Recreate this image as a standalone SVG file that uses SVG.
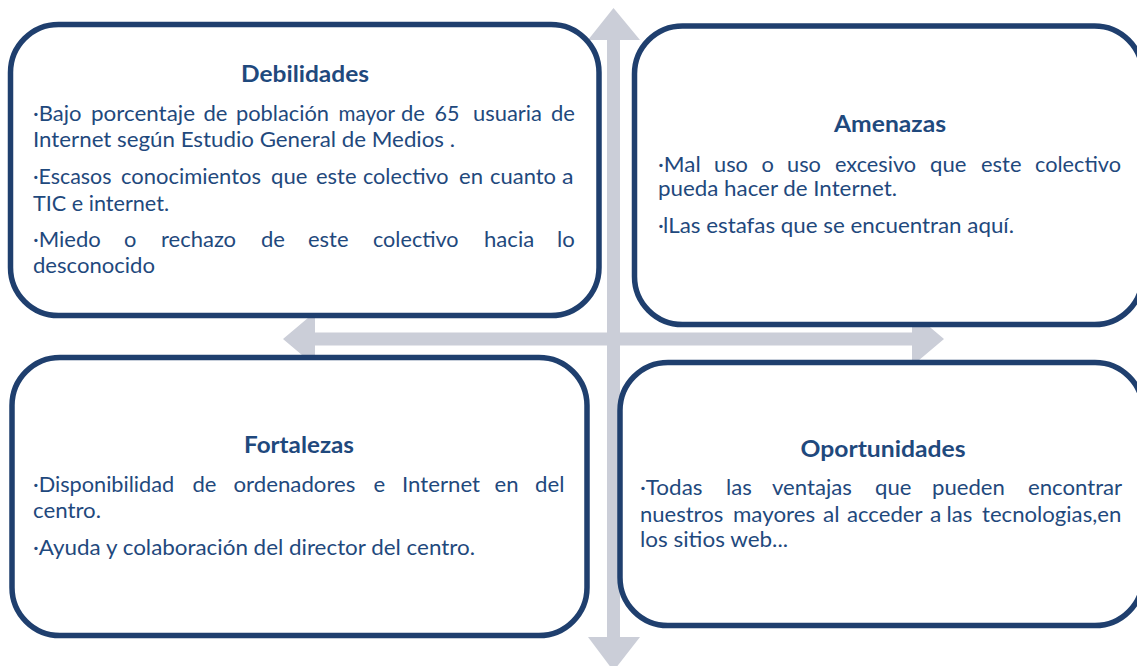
<svg xmlns="http://www.w3.org/2000/svg" width="1137" height="666" viewBox="0 0 1137 666">
<style>
.box{fill:#ffffff;stroke:#1F3F6E;stroke-width:5.5}
.arrow{fill:#CBCED8}
.title{font-family:Lato,"Liberation Sans",sans-serif;font-weight:bold;font-size:23px;fill:#1F497D;text-anchor:middle}
.body{font-family:Lato,"Liberation Sans",sans-serif;font-size:21px;fill:#1F497D}
</style>
<rect width="1137" height="666" fill="#ffffff"/>
<g id="connectors">
<polygon class="arrow" points="613.5,8 640,40 620,40 620,637 640,637 613.5,671 588,637 607,637 607,40 588,40"/>
<polygon class="arrow" points="283,339 315,312 315,332.5 912,332.5 912,312 944,339 912,366 912,345.5 315,345.5 315,366"/>
</g>
<g id="debilidades">
<rect class="box" x="10.5" y="24.5" width="588.5" height="291" rx="48" ry="48"/>
<text class="title" x="305" y="82" textLength="128" lengthAdjust="spacingAndGlyphs">Debilidades</text>
<text class="body" y="121"><tspan x="33" textLength="48.5" lengthAdjust="spacingAndGlyphs">·Bajo</tspan> <tspan x="91" textLength="104" lengthAdjust="spacingAndGlyphs">porcentaje</tspan> <tspan x="203.5" textLength="24" lengthAdjust="spacingAndGlyphs">de</tspan> <tspan x="236" textLength="93" lengthAdjust="spacingAndGlyphs">población</tspan> <tspan x="338.5" textLength="56" lengthAdjust="spacingAndGlyphs">mayor</tspan> <tspan x="401" textLength="24" lengthAdjust="spacingAndGlyphs">de</tspan> <tspan x="434.5" textLength="25" lengthAdjust="spacingAndGlyphs">65</tspan> <tspan x="473" textLength="69" lengthAdjust="spacingAndGlyphs">usuaria</tspan> <tspan x="551" textLength="24" lengthAdjust="spacingAndGlyphs">de</tspan></text>
<text class="body" x="33" y="147" textLength="422" lengthAdjust="spacingAndGlyphs">Internet según Estudio General de Medios .</text>
<text class="body" y="184"><tspan x="33" textLength="78.5" lengthAdjust="spacingAndGlyphs">·Escasos</tspan> <tspan x="121" textLength="140" lengthAdjust="spacingAndGlyphs">conocimientos</tspan> <tspan x="271" textLength="36.4" lengthAdjust="spacingAndGlyphs">que</tspan> <tspan x="316" textLength="40.5" lengthAdjust="spacingAndGlyphs">este</tspan> <tspan x="363" textLength="85.6" lengthAdjust="spacingAndGlyphs">colectivo</tspan> <tspan x="459" textLength="24" lengthAdjust="spacingAndGlyphs">en</tspan> <tspan x="490" textLength="66" lengthAdjust="spacingAndGlyphs">cuanto</tspan> <tspan x="562" textLength="11.5" lengthAdjust="spacingAndGlyphs">a</tspan></text>
<text class="body" x="33" y="211" textLength="136" lengthAdjust="spacingAndGlyphs">TIC e internet.</text>
<text class="body" y="247"><tspan x="33" textLength="67.8" lengthAdjust="spacingAndGlyphs">·Miedo</tspan> <tspan x="124" textLength="12.4" lengthAdjust="spacingAndGlyphs">o</tspan> <tspan x="161" textLength="75.1" lengthAdjust="spacingAndGlyphs">rechazo</tspan> <tspan x="261" textLength="24" lengthAdjust="spacingAndGlyphs">de</tspan> <tspan x="308" textLength="40.5" lengthAdjust="spacingAndGlyphs">este</tspan> <tspan x="373" textLength="85.6" lengthAdjust="spacingAndGlyphs">colectivo</tspan> <tspan x="484" textLength="50.2" lengthAdjust="spacingAndGlyphs">hacia</tspan> <tspan x="557" textLength="17.8" lengthAdjust="spacingAndGlyphs">lo</tspan></text>
<text class="body" x="33" y="273" textLength="122" lengthAdjust="spacingAndGlyphs">desconocido</text>
</g>
<g id="amenazas">
<rect class="box" x="634.5" y="26" width="508" height="298.5" rx="48" ry="48"/>
<text class="title" x="890" y="132" textLength="112" lengthAdjust="spacingAndGlyphs">Amenazas</text>
<text class="body" y="172"><tspan x="658" textLength="42.7" lengthAdjust="spacingAndGlyphs">·Mal</tspan> <tspan x="714" textLength="33.9" lengthAdjust="spacingAndGlyphs">uso</tspan> <tspan x="761.5" textLength="12.4" lengthAdjust="spacingAndGlyphs">o</tspan> <tspan x="787" textLength="33.9" lengthAdjust="spacingAndGlyphs">uso</tspan> <tspan x="835" textLength="81.1" lengthAdjust="spacingAndGlyphs">excesivo</tspan> <tspan x="930" textLength="36.4" lengthAdjust="spacingAndGlyphs">que</tspan> <tspan x="981" textLength="40.5" lengthAdjust="spacingAndGlyphs">este</tspan> <tspan x="1035" textLength="86" lengthAdjust="spacingAndGlyphs">colectivo</tspan></text>
<text class="body" x="658" y="196" textLength="239" lengthAdjust="spacingAndGlyphs">pueda hacer de Internet.</text>
<text class="body" x="658" y="233" textLength="356" lengthAdjust="spacingAndGlyphs">·lLas estafas que se encuentran aquí.</text>
</g>
<g id="fortalezas">
<rect class="box" x="12" y="357.5" width="575" height="278" rx="48" ry="48"/>
<text class="title" x="299" y="453" textLength="110" lengthAdjust="spacingAndGlyphs">Fortalezas</text>
<text class="body" y="492"><tspan x="33" textLength="141.2" lengthAdjust="spacingAndGlyphs">·Disponibilidad</tspan> <tspan x="192.5" textLength="24" lengthAdjust="spacingAndGlyphs">de</tspan> <tspan x="233.5" textLength="122" lengthAdjust="spacingAndGlyphs">ordenadores</tspan> <tspan x="373.5" textLength="11.7" lengthAdjust="spacingAndGlyphs">e</tspan> <tspan x="402" textLength="78" lengthAdjust="spacingAndGlyphs">Internet</tspan> <tspan x="494.5" textLength="24" lengthAdjust="spacingAndGlyphs">en</tspan> <tspan x="535" textLength="29.4" lengthAdjust="spacingAndGlyphs">del</tspan></text>
<text class="body" x="33" y="518" textLength="68" lengthAdjust="spacingAndGlyphs">centro.</text>
<text class="body" x="33" y="555" textLength="442" lengthAdjust="spacingAndGlyphs">·Ayuda y colaboración del director del centro.</text>
</g>
<g id="oportunidades">
<rect class="box" x="620" y="362.5" width="523" height="263" rx="48" ry="48"/>
<text class="title" x="883" y="457" textLength="165" lengthAdjust="spacingAndGlyphs">Oportunidades</text>
<text class="body" y="495"><tspan x="640" textLength="62.5" lengthAdjust="spacingAndGlyphs">·Todas</tspan> <tspan x="726" textLength="25.8" lengthAdjust="spacingAndGlyphs">las</tspan> <tspan x="772" textLength="79.9" lengthAdjust="spacingAndGlyphs">ventajas</tspan> <tspan x="875" textLength="36.4" lengthAdjust="spacingAndGlyphs">que</tspan> <tspan x="932" textLength="72.8" lengthAdjust="spacingAndGlyphs">pueden</tspan> <tspan x="1028" textLength="94.2" lengthAdjust="spacingAndGlyphs">encontrar</tspan></text>
<text class="body" y="522"><tspan x="640" textLength="83.2" lengthAdjust="spacingAndGlyphs">nuestros</tspan> <tspan x="733" textLength="82.2" lengthAdjust="spacingAndGlyphs">mayores</tspan> <tspan x="823" textLength="16.6" lengthAdjust="spacingAndGlyphs">al</tspan> <tspan x="847" textLength="75.1" lengthAdjust="spacingAndGlyphs">acceder</tspan> <tspan x="930" textLength="11.3" lengthAdjust="spacingAndGlyphs">a</tspan> <tspan x="946.5" textLength="25.8" lengthAdjust="spacingAndGlyphs">las</tspan> <tspan x="982" textLength="139.3" lengthAdjust="spacingAndGlyphs">tecnologias,en</tspan></text>
<text class="body" x="640" y="547" textLength="148" lengthAdjust="spacingAndGlyphs">los sitios web...</text>
</g>
</svg>
